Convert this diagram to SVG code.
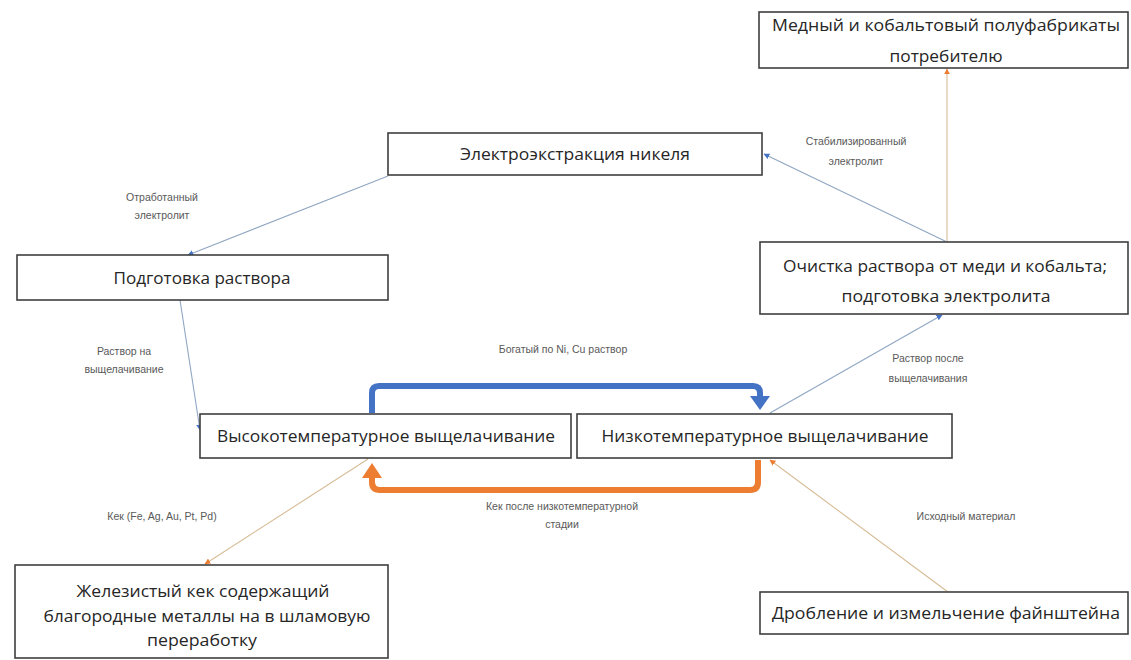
<svg xmlns="http://www.w3.org/2000/svg" width="1131" height="660" viewBox="0 0 1131 660">
  <style>
    .box { fill: #ffffff; stroke: #3f3f3f; stroke-width: 1.6; }
    .t { font-family: "Open Sans", "Liberation Sans", sans-serif; font-size: 16px; fill: #262626; text-anchor: middle; }
    .lbl { font-family: "Liberation Sans", "Open Sans", sans-serif; font-size: 10.5px; fill: #595959; text-anchor: middle; }
    .thin-b { fill: none; stroke: #8fa6c2; stroke-width: 1.1; marker-end: url(#ahB); }
    .thin-o { fill: none; stroke: #d6bc96; stroke-width: 1.1; marker-end: url(#ahO); }
    .thick-b { fill: none; stroke: #4472c4; stroke-width: 6; stroke-linejoin: round; }
    .thick-o { fill: none; stroke: #ed7d31; stroke-width: 6; stroke-linejoin: round; }
  </style>
  <defs>
    <marker id="ahB" viewBox="0 0 10 10" refX="9" refY="5" markerWidth="6" markerHeight="6" markerUnits="userSpaceOnUse" orient="auto">
      <path d="M0,0 L10,5 L0,10 z" fill="#4472c4"/>
    </marker>
    <marker id="ahO" viewBox="0 0 10 10" refX="9" refY="5" markerWidth="6" markerHeight="6" markerUnits="userSpaceOnUse" orient="auto">
      <path d="M0,0 L10,5 L0,10 z" fill="#ed7d31"/>
    </marker>
  </defs>
  <rect width="1131" height="660" fill="#ffffff"/>

  <!-- connectors -->
  <g id="connectors">
    <!-- spent electrolyte: electrowinning -> solution prep -->
    <line class="thin-b" x1="388" y1="176" x2="188" y2="255"/>
    <!-- leach solution: prep -> high-temp leach -->
    <line class="thin-b" x1="180" y1="300" x2="200" y2="430"/>
    <!-- rich Ni/Cu solution -->
    <path class="thick-b" d="M372,413 V393 Q372,386 379,386 H753 Q760,386 760,393 V398"/>
    <polygon points="750,396 770,396 760,410" fill="#4472c4"/>
    <!-- cake after low-temp stage -->
    <path class="thick-o" d="M758,460 V482 Q758,490 750,490 H380 Q372,490 372,482 V476"/>
    <polygon points="362,478 382,478 372,463" fill="#ed7d31"/>
    <!-- cake with noble metals -->
    <line class="thin-o" x1="368" y1="459" x2="205" y2="564"/>
    <!-- feed material -->
    <line class="thin-o" x1="948" y1="592" x2="770" y2="460"/>
    <!-- solution after leaching -->
    <line class="thin-b" x1="770" y1="413" x2="942" y2="315"/>
    <!-- stabilised electrolyte -->
    <line class="thin-b" x1="947" y1="242" x2="764" y2="154"/>
    <!-- Cu/Co semi-products -->
    <line class="thin-o" x1="947" y1="242" x2="947" y2="69"/>
  </g>

  <!-- connector labels -->
  <g id="labels">
    <text class="lbl" x="162" y="201">Отработанный</text>
    <text class="lbl" x="162" y="219">электролит</text>
    <text class="lbl" x="124" y="355">Раствор на</text>
    <text class="lbl" x="124" y="373">выщелачивание</text>
    <text class="lbl" x="563" y="353">Богатый по Ni, Cu раствор</text>
    <text class="lbl" x="562" y="510">Кек после низкотемпературной</text>
    <text class="lbl" x="562" y="528">стадии</text>
    <text class="lbl" x="162" y="520">Кек (Fe, Ag, Au, Pt, Pd)</text>
    <text class="lbl" x="966" y="520">Исходный материал</text>
    <text class="lbl" x="928" y="362">Раствор после</text>
    <text class="lbl" x="928" y="382">выщелачивания</text>
    <text class="lbl" x="856" y="145">Стабилизированный</text>
    <text class="lbl" x="856" y="165">электролит</text>
  </g>

  <g id="node-semi-products">
    <rect class="box" x="759" y="12" width="369" height="56"/>
    <text class="t" x="946" y="31" textLength="348" lengthAdjust="spacingAndGlyphs">Медный и кобальтовый полуфабрикаты</text>
    <text class="t" x="946" y="62" textLength="113" lengthAdjust="spacingAndGlyphs">потребителю</text>
  </g>

  <g id="node-electrowinning">
    <rect class="box" x="388" y="133" width="374" height="42"/>
    <text class="t" x="575" y="160" textLength="230" lengthAdjust="spacingAndGlyphs">Электроэкстракция никеля</text>
  </g>

  <g id="node-solution-prep">
    <rect class="box" x="17" y="255" width="371" height="45"/>
    <text class="t" x="202" y="284" textLength="177" lengthAdjust="spacingAndGlyphs">Подготовка раствора</text>
  </g>

  <g id="node-purification">
    <rect class="box" x="760" y="242" width="368" height="72"/>
    <text class="t" x="945" y="272" textLength="324" lengthAdjust="spacingAndGlyphs">Очистка раствора от меди и кобальта;</text>
    <text class="t" x="946" y="302" textLength="209" lengthAdjust="spacingAndGlyphs">подготовка электролита</text>
  </g>

  <g id="node-high-temp">
    <rect class="box" x="200" y="414" width="371" height="44"/>
    <text class="t" x="386" y="442" textLength="338" lengthAdjust="spacingAndGlyphs">Высокотемпературное выщелачивание</text>
  </g>

  <g id="node-low-temp">
    <rect class="box" x="577" y="414" width="375" height="44"/>
    <text class="t" x="765" y="442" textLength="327" lengthAdjust="spacingAndGlyphs">Низкотемпературное выщелачивание</text>
  </g>

  <g id="node-iron-cake">
    <rect class="box" x="15" y="565" width="373" height="93"/>
    <text class="t" x="203" y="597" textLength="253" lengthAdjust="spacingAndGlyphs">Железистый кек содержащий</text>
    <text class="t" x="207" y="622" textLength="327" lengthAdjust="spacingAndGlyphs">благородные металлы на в шламовую</text>
    <text class="t" x="202" y="646" textLength="110" lengthAdjust="spacingAndGlyphs">переработку</text>
  </g>

  <g id="node-crushing">
    <rect class="box" x="760" y="592" width="368" height="42"/>
    <text class="t" x="946" y="619" textLength="348" lengthAdjust="spacingAndGlyphs">Дробление и измельчение файнштейна</text>
  </g>
</svg>
